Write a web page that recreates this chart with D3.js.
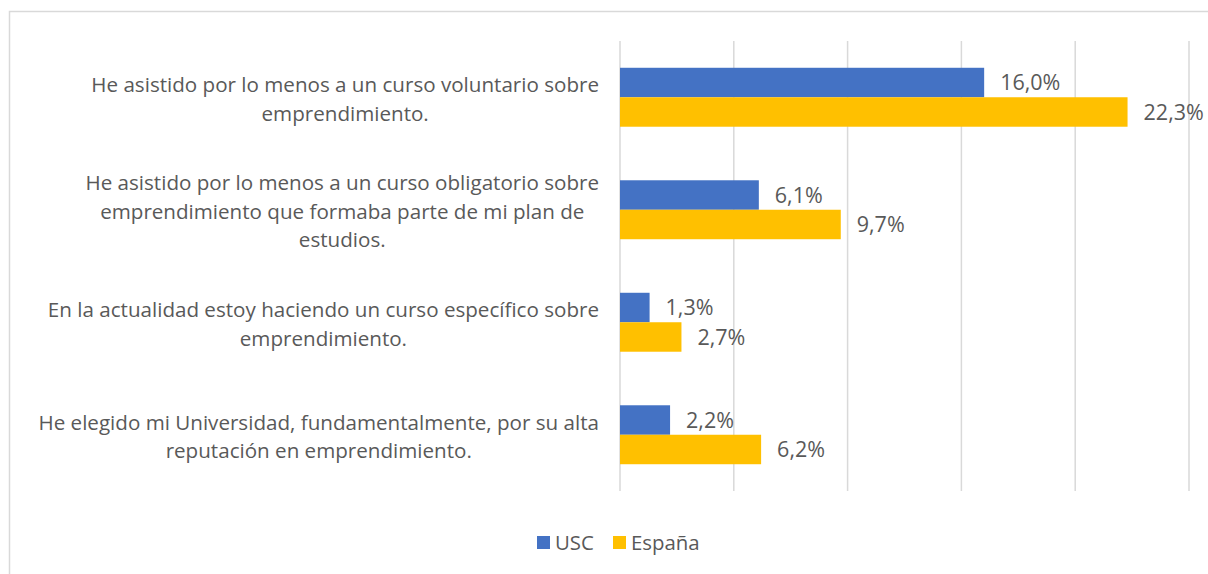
<!DOCTYPE html>
<html>
<head>
<meta charset="utf-8">
<script src="https://cdn.jsdelivr.net/npm/d3@7"></script>
<style>
  body { margin: 0; background: #fff; }
  text { font-family: "Open Sans", sans-serif; fill: #595959; }
</style>
</head>
<body>
<div id="chart-area"></div>
<script>
// categories (top to bottom), each split in lines as in the original
var categories = [
  ["He asistido por lo menos a un curso voluntario sobre", "emprendimiento."],
  ["He asistido por lo menos a un curso obligatorio sobre", "emprendimiento que formaba parte de mi plan de", "estudios."],
  ["En la actualidad estoy haciendo un curso específico sobre", "emprendimiento."],
  ["He elegido mi Universidad, fundamentalmente, por su alta", "reputación en emprendimiento."]
];
var series = ["USC", "España"];
var uscValues = [16.0, 6.1, 1.3, 2.2];
var espanaValues = [22.3, 9.7, 2.7, 6.2];
var colors = ["#4472C4", "#FFC000"];

var width = 1208, height = 574;

var svg = d3.select("#chart-area")
  .append("svg")
  .attr("width", width)
  .attr("height", height);

// outer chart border
svg.append("rect")
  .attr("x", 9.5).attr("y", 11.5)
  .attr("width", 1400).attr("height", 800)
  .attr("fill", "none")
  .attr("stroke", "#d9d9d9")
  .attr("stroke-width", 1.5);

var data = categories.map((c, i) => ({
  key: i,
  lines: c,
  values: [uscValues[i], espanaValues[i]]
}));

var x = d3.scaleLinear().domain([0, 25]).range([620, 1189]);

var y = d3.scaleBand()
  .domain(data.map(d => d.key))
  .range([41, 491])
  .paddingInner(0.476)
  .paddingOuter(0.238);

var ySub = d3.scaleBand()
  .domain(series)
  .range([0, y.bandwidth()]);

// gridlines
svg.append("g")
  .selectAll("line")
  .data(x.ticks(5))
  .enter()
  .append("line")
    .attr("x1", d => x(d)).attr("x2", d => x(d))
    .attr("y1", 41).attr("y2", 491)
    .attr("stroke", "#d9d9d9")
    .attr("stroke-width", 1.5);

var groups = svg.selectAll(".grp")
  .data(data)
  .enter()
  .append("g")
    .attr("class", "grp")
    .attr("transform", d => "translate(0," + y(d.key) + ")");

groups.selectAll("rect")
  .data(d => d.values.map((v, j) => ({ s: series[j], v: v, c: colors[j] })))
  .enter()
  .append("rect")
    .attr("x", x(0))
    .attr("y", d => ySub(d.s))
    .attr("width", d => x(d.v) - x(0))
    .attr("height", ySub.bandwidth())
    .attr("fill", d => d.c);

groups.selectAll(".val")
  .data(d => d.values.map((v, j) => ({ s: series[j], v: v })))
  .enter()
  .append("text")
    .attr("class", "val")
    .attr("x", d => x(d.v) + 16)
    .attr("y", d => ySub(d.s) + ySub.bandwidth() / 2)
    .attr("dy", "0.35em")
    .attr("font-size", 21.5)
    .text(d => d.v.toFixed(1).replace(".", ",") + "%");

// category labels: each line centered within a block right-aligned at labelRight
var lineH = 28.5;
var labelRight = 599;
data.forEach(d => {
  var g = svg.append("g");
  var cy = y(d.key) + y.bandwidth() / 2 + 2;
  var n = d.lines.length;
  var texts = d.lines.map((ln, k) =>
    g.append("text")
      .attr("font-size", 20.6)
      .attr("text-anchor", "middle")
      .attr("y", cy + (k - (n - 1) / 2) * lineH)
      .attr("dy", "0.35em")
      .text(ln));
  var maxW = d3.max(texts, t => t.node().getComputedTextLength());
  texts.forEach(t => t.attr("x", labelRight - maxW / 2));
});

// legend
var legend = svg.append("g");
var lx = [537, 613];
series.forEach((s, i) => {
  legend.append("rect")
    .attr("x", lx[i]).attr("y", 536)
    .attr("width", 13).attr("height", 13)
    .attr("fill", colors[i]);
  legend.append("text")
    .attr("x", lx[i] + 18).attr("y", 543)
    .attr("dy", "0.35em")
    .attr("font-size", 20.4)
    .text(s);
});
</script>
</body>
</html>
